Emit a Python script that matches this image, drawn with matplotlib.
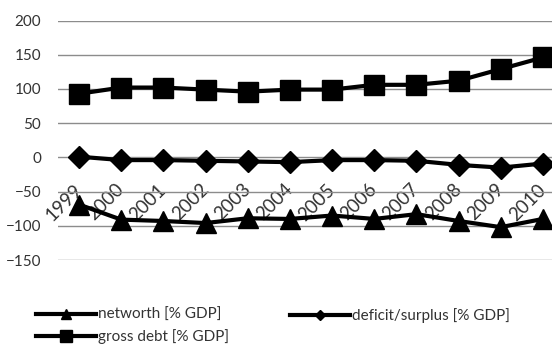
import numpy as np
import matplotlib.pyplot as plt
from matplotlib.lines import Line2D
from matplotlib.transforms import ScaledTranslation

plt.rcParams['font.family'] = ['Lato', 'DejaVu Sans']

# Yearly values, % of GDP
years = ['1999', '2000', '2001', '2002', '2003', '2004',
         '2005', '2006', '2007', '2008', '2009', '2010']
networth = [-69, -91, -93, -96, -89, -90, -85, -90, -83, -93, -102, -90]
deficit_surplus = [1, -4, -4, -5, -6, -7, -4, -4, -5, -11, -15, -9]
gross_debt = [93, 102, 102, 99, 96, 99, 99, 106, 106, 112, 129, 146]
y_ticks = [-150, -100, -50, 0, 50, 100, 150, 200]

text_color = '#333333'

fig = plt.figure(figsize=(5.52, 3.45), dpi=100)
# axes runs a little past the right edge of the figure
ax = fig.add_axes([58 / 552, 1 - 260 / 345, 506 / 552, 239.5 / 345])

x = np.arange(len(years))
ax.plot(x, networth, color='black', lw=3, marker='^', ms=15, clip_on=False, zorder=3)
ax.plot(x, deficit_surplus, color='black', lw=3, marker='D', ms=11, clip_on=False, zorder=3)
ax.plot(x, gross_debt, color='black', lw=3, marker='s', ms=15, clip_on=False, zorder=3)

ax.set_xlim(-0.5, len(years) - 0.5)
ax.set_ylim(-150, 200)
ax.set_yticks(y_ticks)
ax.yaxis.grid(True, color='#8c8c8c', lw=1)
ax.set_axisbelow(True)
for s in ax.spines.values():
    s.set_visible(False)

# category labels hang below the zero line
ax.spines['bottom'].set_position(('data', 0))
ax.set_xticks(x)
ax.set_xticklabels(years, rotation=45, ha='right', rotation_mode='anchor')
ax.tick_params(axis='x', length=0, pad=14, labelsize=13.5, labelcolor=text_color)
ax.tick_params(axis='y', length=0, pad=12, labelsize=11, labelcolor=text_color)
shift = ScaledTranslation(-6 / 100, -4 / 100, fig.dpi_scale_trans)
for lbl in ax.get_xticklabels():
    lbl.set_transform(lbl.get_transform() + shift)

# two legend columns, placed separately
leg_kw = dict(frameon=False, fontsize=11, labelcolor=text_color, handlelength=3.9,
              handletextpad=0.15, labelspacing=0.45, borderpad=0, borderaxespad=0,
              loc='upper left')
h_net = Line2D([], [], color='black', lw=3, marker='^', ms=7)
h_debt = Line2D([], [], color='black', lw=3, marker='s', ms=8)
h_def = Line2D([], [], color='black', lw=3, marker='D', ms=5)
top = 1 - 308 / 345
fig.legend([h_net, h_debt], ['networth [% GDP]', 'gross debt [% GDP]'],
           bbox_to_anchor=(36 / 552, top), **leg_kw)
fig.legend([h_def], ['deficit/surplus [% GDP]'], bbox_to_anchor=(290 / 552, top), **leg_kw)

fig.savefig('out.png', dpi=100)
